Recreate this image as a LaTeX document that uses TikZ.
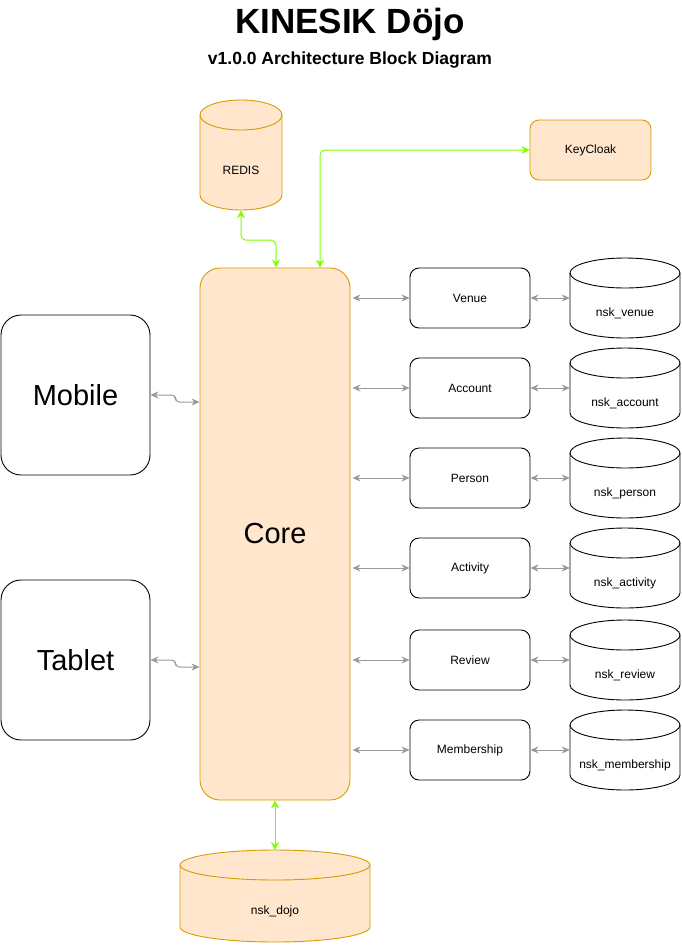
\documentclass[tikz,border=0pt]{standalone}
\usepackage{fontspec}
\setmainfont{Liberation Sans}
\usetikzlibrary{arrows.meta,calc}
\definecolor{ofill}{HTML}{FFE6CC}
\definecolor{ostroke}{HTML}{D79B00}
\definecolor{lgreen}{HTML}{80FF00}
\definecolor{cgray}{HTML}{999999}
\tikzset{
  obox/.style={draw=ostroke,fill=ofill,line width=0.9pt,rounded corners=9pt,minimum width=121pt,minimum height=60pt,inner sep=0pt,font=\fontsize{12}{14}\selectfont},
  corebox/.style={draw=ostroke,fill=ofill,line width=0.9pt,rounded corners=20pt,minimum width=150pt,minimum height=532pt,inner sep=0pt,font=\fontsize{29}{34}\selectfont},
  devbox/.style={draw=black,fill=white,line width=0.9pt,rounded corners=20pt,minimum width=149pt,minimum height=160pt,inner sep=0pt,font=\fontsize{29}{34}\selectfont},
  svcbox/.style={draw=black,fill=white,line width=0.9pt,rounded corners=9pt,minimum width=120pt,minimum height=60pt,inner sep=0pt,font=\fontsize{12}{14}\selectfont},
  odb/.style={draw=ostroke,fill=ofill,line width=0.9pt},
  wdb/.style={draw=black,fill=white,line width=0.9pt},
  dbtext/.style={inner sep=0pt,font=\fontsize{12}{14}\selectfont},
  glink/.style={draw=lgreen,line width=1pt,rounded corners=5pt,{Stealth[length=8pt,width=8pt]}-{Stealth[length=8pt,width=8pt]}},
  slink/.style={draw=cgray,line width=1pt,{Stealth[length=8pt,width=7pt]}-{Stealth[length=8pt,width=7pt]}},
  clink/.style={draw=cgray,line width=1pt,rounded corners=4pt,{Stealth[length=8pt,width=7pt]}-{Stealth[length=8pt,width=7pt]}},
}
% #1 style, #2 name, #3 cx, #4 top, #5 bottom, #6 rx, #7 text
\newcommand{\dbcyl}[7]{%
  \path[#1] ({#3-#6},{-(#4)-15}) -- ({#3-#6},{-(#5)+15})
     arc[start angle=180,end angle=360,x radius=#6,y radius=15]
     -- ({#3+#6},{-(#4)-15})
     arc[start angle=0,end angle=180,x radius=#6,y radius=15] -- cycle;
  \path[#1,fill=none] ({#3-#6},{-(#4)-15})
     arc[start angle=180,end angle=360,x radius=#6,y radius=15];
  \node[dbtext,minimum width={2*#6},minimum height={(#5)-(#4)-30}] (#2) at ({#3},{-((#4)+30+(#5))/2}) {#7};
  \coordinate (#2-top) at ({#3},{-(#4)});
}
\begin{document}
\begin{tikzpicture}[x=1pt,y=1pt]
\useasboundingbox (0,0) rectangle (681,-948);

% title
\node[font=\bfseries\fontsize{35}{40}\selectfont,inner sep=0pt] (title) at (350,-24) {KINESIK Döjo};
\node[font=\bfseries\fontsize{17.5}{20}\selectfont,inner sep=0pt] (subtitle) at (350,-60) {v1.0.0 Architecture Block Diagram};

% main blocks
\node[corebox] (Core) at (275,-534) {Core};
\node[devbox] (Mobile) at (75.5,-395) {Mobile};
\node[devbox] (Tablet) at (75.5,-660) {Tablet};
\node[obox] (KeyCloak) at (590.5,-150) {KeyCloak};

\dbcyl{odb}{REDIS}{241}{100}{210}{41}{REDIS}
\dbcyl{odb}{dojo}{275}{850}{942}{95}{nsk\_dojo}

% services
\node[svcbox] (Venue) at (470,-298) {Venue};
\node[svcbox] (Account) at (470,-388) {Account};
\node[svcbox] (Person) at (470,-478) {Person};
\node[svcbox] (Activity) at (470,-568) {Activity};
\node[svcbox] (Review) at (470,-660) {Review};
\node[svcbox] (Membership) at (470,-750) {Membership};

% databases
\dbcyl{wdb}{dbVenue}{625}{258}{338}{55}{nsk\_venue}
\dbcyl{wdb}{dbAccount}{625}{348}{428}{55}{nsk\_account}
\dbcyl{wdb}{dbPerson}{625}{438}{518}{55}{nsk\_person}
\dbcyl{wdb}{dbActivity}{625}{528}{608}{55}{nsk\_activity}
\dbcyl{wdb}{dbReview}{625}{620}{700}{55}{nsk\_review}
\dbcyl{wdb}{dbMembership}{625}{710}{790}{55}{nsk\_membership}

% green links
\draw[glink] (REDIS.south) -- ++(0,-30) -| ([xshift=1pt]Core.north);
\draw[glink] ([xshift=45pt]Core.north) |- (KeyCloak.west);
\draw[glink] (Core.south) -- (dojo-top);

% device links
\draw[clink] (Mobile.east) -- ++(25,0) |- ([yshift=-7pt]Mobile.east -| Core.west);
\draw[clink] (Tablet.east) -- ++(25,0) |- ([yshift=-7pt]Tablet.east -| Core.west);

% service links
\foreach \s in {Venue,Account,Person,Activity,Review,Membership}{
  \draw[slink] ([xshift=2pt]Core.east |- \s.west) -- (\s.west);
  \draw[slink] (\s.east) -- (\s.east -| db\s.west);
}
\end{tikzpicture}
\end{document}
